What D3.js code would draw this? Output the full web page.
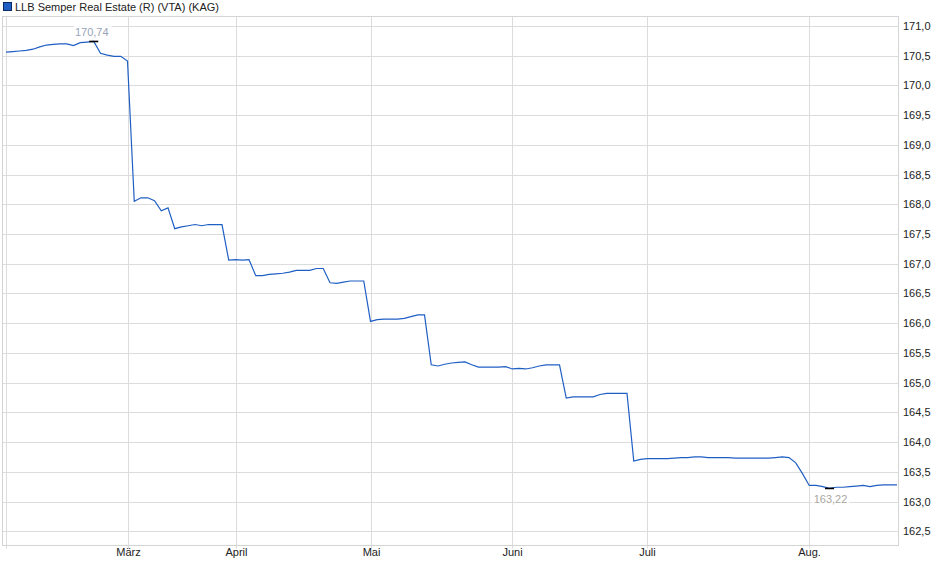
<!DOCTYPE html>
<html>
<head>
<meta charset="utf-8">
<script src="https://cdn.jsdelivr.net/npm/d3@7"></script>
<style>
	body { margin: 0; background: #fff; }
	svg { display: block; font-family: "Liberation Sans", Arial, sans-serif; }
</style>
</head>
<body>
<div id="chart"></div>
<script>

const series_name = "LLB Semper Real Estate (R) (VTA) (KAG)";

// one value per observation (fund price)
const prices = [
	170.56, 170.57, 170.58, 170.59, 170.61, 170.65, 170.68, 170.69, 170.70, 170.70,
	170.67, 170.72, 170.73, 170.74, 170.54, 170.51, 170.49, 170.49, 170.41, 168.05,
	168.11, 168.11, 168.06, 167.89, 167.94, 167.59, 167.62, 167.64, 167.66, 167.64,
	167.66, 167.66, 167.66, 167.06, 167.07, 167.06, 167.07, 166.80, 166.80, 166.82,
	166.83, 166.84, 166.86, 166.89, 166.89, 166.89, 166.92, 166.92, 166.68, 166.67,
	166.69, 166.71, 166.71, 166.71, 166.03, 166.06, 166.07, 166.07, 166.07, 166.08,
	166.11, 166.14, 166.14, 165.30, 165.28, 165.31, 165.33, 165.34, 165.35, 165.30,
	165.26, 165.26, 165.26, 165.26, 165.27, 165.23, 165.24, 165.23, 165.25, 165.28,
	165.30, 165.30, 165.30, 164.74, 164.76, 164.76, 164.76, 164.76, 164.80, 164.82,
	164.82, 164.82, 164.82, 163.68, 163.71, 163.72, 163.72, 163.72, 163.72, 163.73,
	163.74, 163.74, 163.75, 163.75, 163.74, 163.74, 163.74, 163.74, 163.73, 163.73,
	163.73, 163.73, 163.73, 163.73, 163.74, 163.75, 163.74, 163.65, 163.47, 163.27,
	163.27, 163.25, 163.22, 163.24, 163.24, 163.25, 163.26, 163.27, 163.25, 163.27,
	163.28, 163.28, 163.28
];

// month starts (observation index) and their labels
const month_index = [ 0, 18, 34, 54, 75, 95, 119 ];
const month_labels = [ "", "März", "April", "Mai", "Juni", "Juli", "Aug." ];

// right axis ticks
const y_ticks = [ 162.5, 163, 163.5, 164, 164.5, 165, 165.5, 166, 166.5, 167, 167.5, 168, 168.5, 169, 169.5, 170, 170.5, 171 ];

///////////////////////////////////////////////////////////////////////

const width = 940, height = 579;
const frame = { left: 2.5, right: 898.5, top: 16.5, bottom: 545.5 };

const fmt = v => d3.format( ".2f" )( v ).replace( ".", "," );
const fmt_axis = v => d3.format( ".1f" )( v ).replace( ".", "," );

let svg = d3.select( "#chart" )
	.append( "svg" )
		.attr( "width", width )
		.attr( "height", height );

let x = d3.scaleLinear()
	.domain( [ 0, prices.length - 1 ] )
	.range( [ 6, 897 ] );

let y = d3.scaleLinear()
	.domain( [ 162.26, 171.16 ] )
	.range( [ frame.bottom, frame.top ] );

// horizontal grid
svg.append( "g" )
	.selectAll( "line" )
	.data( y_ticks )
	.join( "line" )
		.attr( "x1", frame.left )
		.attr( "x2", frame.right )
		.attr( "y1", d => Math.round( y( d ) ) + 0.5 )
		.attr( "y2", d => Math.round( y( d ) ) + 0.5 )
		.attr( "stroke", "#dcdcdc" )
		.attr( "stroke-width", 1 );

// vertical grid at month starts
svg.append( "g" )
	.selectAll( "line" )
	.data( month_index )
	.join( "line" )
		.attr( "x1", d => Math.round( x( d ) ) + 0.5 )
		.attr( "x2", d => Math.round( x( d ) ) + 0.5 )
		.attr( "y1", frame.top )
		.attr( "y2", frame.bottom + 3 )
		.attr( "stroke", "#dcdcdc" )
		.attr( "stroke-width", 1 );

// frame
svg.append( "rect" )
	.attr( "x", frame.left )
	.attr( "y", frame.top )
	.attr( "width", frame.right - frame.left )
	.attr( "height", frame.bottom - frame.top )
	.attr( "fill", "none" )
	.attr( "stroke", "#d4d4d4" );

// right axis labels
svg.append( "g" )
	.selectAll( "text" )
	.data( y_ticks )
	.join( "text" )
		.attr( "x", 903 )
		.attr( "y", d => Math.round( y( d ) ) + 0.5 )
		.attr( "dy", "0.35em" )
		.attr( "font-size", 11 )
		.attr( "fill", "#222" )
		.text( d => fmt_axis( d ) );

// month labels
svg.append( "g" )
	.selectAll( "text" )
	.data( month_index )
	.join( "text" )
		.attr( "x", d => Math.round( x( d ) ) + 0.5 )
		.attr( "y", 556 )
		.attr( "text-anchor", "middle" )
		.attr( "font-size", 11 )
		.attr( "fill", "#222" )
		.text( ( d, i ) => month_labels[ i ] );

// price line
svg.append( "path" )
	.datum( prices )
	.attr( "fill", "none" )
	.attr( "stroke", "#1f5fc4" )
	.attr( "stroke-width", 1.2 )
	.attr( "d", d3.line().x( ( d, i ) => x( i ) ).y( d => y( d ) ) );

// min / max markers
let i_max = d3.maxIndex( prices );
let i_min = d3.minIndex( prices );

svg.append( "line" )
	.attr( "x1", x( i_max ) - 4.5 ).attr( "x2", x( i_max ) + 4.5 )
	.attr( "y1", y( prices[ i_max ] ) ).attr( "y2", y( prices[ i_max ] ) )
	.attr( "stroke", "#000" ).attr( "stroke-width", 1.6 );

svg.append( "line" )
	.attr( "x1", x( i_min ) - 4.5 ).attr( "x2", x( i_min ) + 4.5 )
	.attr( "y1", y( prices[ i_min ] ) ).attr( "y2", y( prices[ i_min ] ) )
	.attr( "stroke", "#000" ).attr( "stroke-width", 1.6 );

let max_lbl = svg.append( "g" );
max_lbl.append( "rect" )
	.attr( "x", x( i_max ) - 20 ).attr( "y", y( prices[ i_max ] ) - 16 )
	.attr( "width", 38 ).attr( "height", 13 )
	.attr( "fill", "#fff" ).attr( "fill-opacity", 0.85 );
max_lbl.append( "text" )
	.attr( "x", x( i_max ) - 2 )
	.attr( "y", y( prices[ i_max ] ) - 9 )
	.attr( "dy", "0.35em" )
	.attr( "text-anchor", "middle" )
	.attr( "font-size", 11 )
	.attr( "fill", "#98a3bb" )
	.text( fmt( prices[ i_max ] ) );

let min_lbl = svg.append( "g" );
min_lbl.append( "rect" )
	.attr( "x", x( i_min ) - 18 ).attr( "y", y( prices[ i_min ] ) + 4 )
	.attr( "width", 38 ).attr( "height", 14 )
	.attr( "fill", "#fff" ).attr( "fill-opacity", 0.9 );
min_lbl.append( "text" )
	.attr( "x", x( i_min ) + 1 )
	.attr( "y", y( prices[ i_min ] ) + 11 )
	.attr( "dy", "0.35em" )
	.attr( "text-anchor", "middle" )
	.attr( "font-size", 11 )
	.attr( "fill", "#a9a79f" )
	.text( fmt( prices[ i_min ] ) );

// legend
svg.append( "rect" )
	.attr( "x", 3.5 ).attr( "y", 2.5 )
	.attr( "width", 8 ).attr( "height", 8 )
	.attr( "fill", "#1f5fc4" )
	.attr( "stroke", "#0a2a66" );

svg.append( "text" )
	.attr( "x", 15 )
	.attr( "y", 7 )
	.attr( "dy", "0.35em" )
	.attr( "font-size", 11 )
	.attr( "fill", "#222" )
	.text( series_name );

</script>
</body>
</html>
